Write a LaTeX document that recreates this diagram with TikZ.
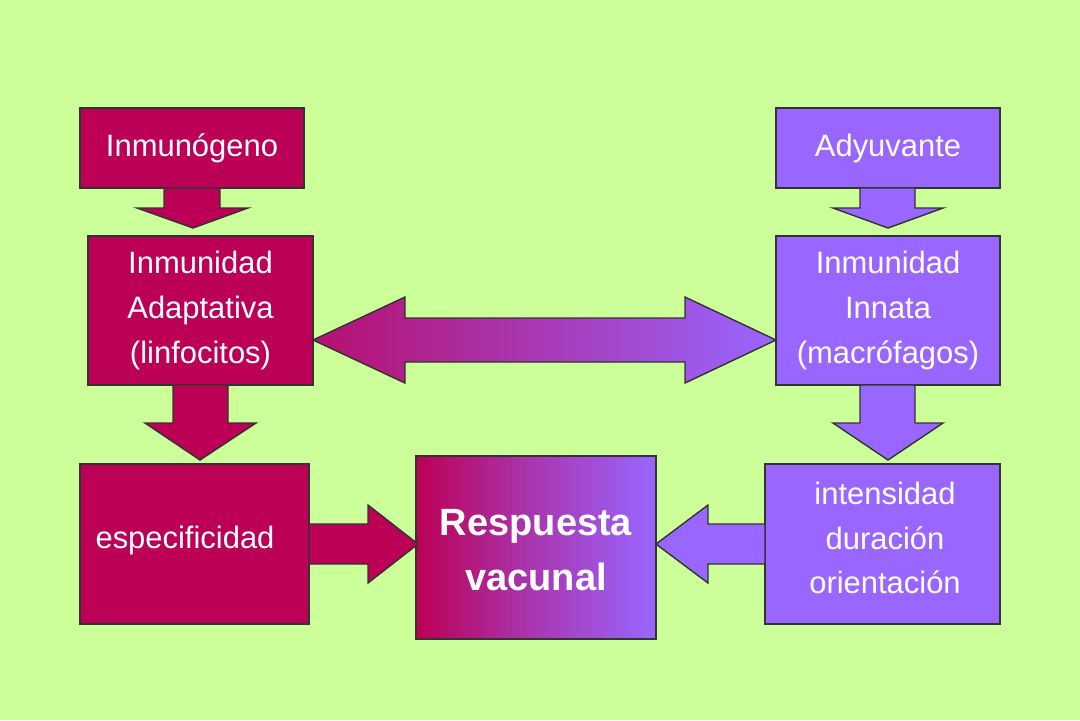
\documentclass[tikz,border=0pt]{standalone}
\usepackage{fontspec}
\setmainfont{Liberation Sans}
\usetikzlibrary{calc}
\definecolor{bgreen}{HTML}{CCFF99}
\definecolor{mag}{HTML}{BB0055}
\definecolor{pur}{HTML}{9966FF}

\begin{document}
\begin{tikzpicture}[
    x=0.01cm, y=-0.01cm,
    every node/.style={font=\fontsize{8.8}{12.7}\selectfont, text=white, align=center},
    magbox/.style={draw=black!80, line width=0.4pt, fill=mag, inner sep=0pt},
    purbox/.style={draw=black!80, line width=0.4pt, fill=pur, inner sep=0pt},
    fat/.style={draw=black!80, line width=0.4pt}
]

% Background
\fill[bgreen] (0,0) rectangle (1080,720);
\useasboundingbox (0,0) rectangle (1080,720);

% Left column
\node[magbox, minimum width=224*0.01cm, minimum height=80*0.01cm] (inmg) at (192,148) {Inmunógeno};
\node[magbox, minimum width=225*0.01cm, minimum height=149*0.01cm] (adap) at (200.5,310.5) {Inmunidad\\Adaptativa\\(linfocitos)};
\node[magbox, minimum width=229*0.01cm, minimum height=160*0.01cm] (esp) at (194.5,544) {};
\node (espt) at (185,540) {especificidad};

% Right column
\node[purbox, minimum width=224*0.01cm, minimum height=80*0.01cm] (adyv) at (888,148) {Adyuvante};
\node[purbox, minimum width=224*0.01cm, minimum height=149*0.01cm] (innata) at (888,310.5) {Inmunidad\\Innata\\(macrófagos)};
\node[purbox, minimum width=235*0.01cm, minimum height=160*0.01cm] (intens) at (882.5,544) {};
\node (intt) at (885,538) {intensidad\\duración\\orientación};

% Centre
\shade[left color=mag, right color=pur, middle color=mag!45!pur] (416,456) rectangle (656,639);
\draw[black!80, line width=0.4pt] (416,456) rectangle (656,639);
\node[font=\bfseries\fontsize{10.8}{15.6}\selectfont] (resp) at (536,550) {Respuesta\\vacunal};

% Down arrows
\coordinate (t1) at (193,228);
\coordinate (t2) at (200,460);
\coordinate (t3) at (888,228);
\coordinate (t4) at (888,460);
\filldraw[fat, fill=mag] (164,188) -- (220,188) -- (220,208) -- (248,208) -- (t1) -- (137,208) -- (164,208) -- cycle;
\filldraw[fat, fill=mag] (173,385) -- (228,385) -- (228,423) -- (256,423) -- (t2) -- (145,423) -- (173,423) -- cycle;
\filldraw[fat, fill=pur] (860,188) -- (915,188) -- (915,208) -- (943,208) -- (t3) -- (833,208) -- (860,208) -- cycle;
\filldraw[fat, fill=pur] (860,385) -- (915,385) -- (915,423) -- (943,423) -- (t4) -- (833,423) -- (860,423) -- cycle;

% Side arrows into the response
\coordinate (t5) at (418,544);
\coordinate (t6) at (656,544);
\filldraw[fat, fill=mag] (309,524) -- (368,524) -- (368,505) -- (t5) -- (368,583) -- (368,564) -- (309,564) -- cycle;
\filldraw[fat, fill=pur] (765,524) -- (708,524) -- (708,505) -- (t6) -- (708,583) -- (708,564) -- (765,564) -- cycle;

% Double arrow
\coordinate (dl) at (313,340);
\coordinate (dr) at (776,340);
\shadedraw[fat, left color=mag!85!pur, right color=pur]
  (dl) -- (405,297) -- (405,318) -- (685,318) -- (685,297) -- (dr)
  -- (685,383) -- (685,362) -- (405,362) -- (405,383) -- cycle;

\end{tikzpicture}
\end{document}
